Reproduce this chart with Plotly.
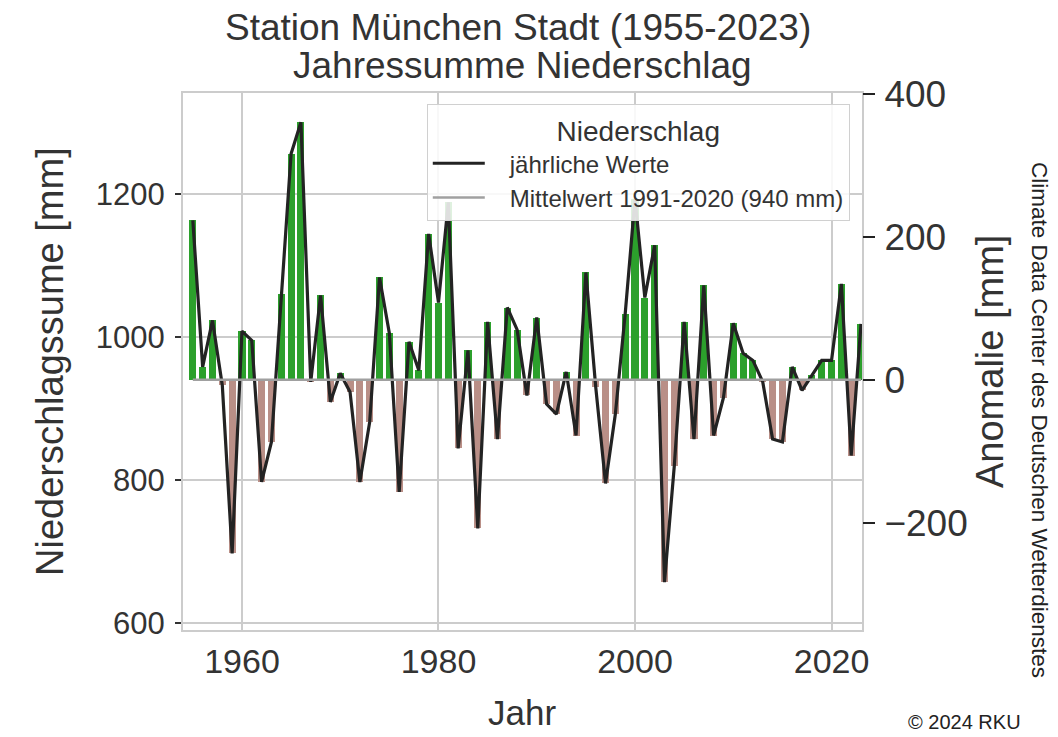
import plotly.graph_objects as go

YEARS = list(range(1955, 2024))
PRECIP = [1163, 958, 1023, 932, 697, 1008, 995, 797, 853, 1060,
          1256, 1300, 937, 1058, 909, 949, 923, 797, 881, 1083,
          1005, 783, 993, 953, 1144, 1048, 1188, 844, 981, 732,
          1021, 857, 1041, 1010, 918, 1027, 906, 892, 951, 862,
          1090, 930, 795, 892, 1032, 1193, 1055, 1128, 657, 820,
          1021, 857, 1072, 862, 915, 1019, 977, 967, 937, 857,
          853, 958, 925, 946, 967, 967, 1074, 834, 1018]
MEAN = 940
X_TICKS = [1960, 1980, 2000, 2020]
Y_TICKS = [600, 800, 1000, 1200]
Y2_TICKS = [-200, 0, 200, 400]

FONT = "Liberation Sans, Arial, sans-serif"
TXT = "#333333"
GREEN = "#2ca02c"
BROWN = "#b98f87"
PAD = "\u00a0\u00a0\u00a0"

anom = [v - MEAN for v in PRECIP]
colors = [GREEN if a >= 0 else BROWN for a in anom]

fig = go.Figure()
fig.add_trace(go.Bar(x=YEARS, y=anom, base=MEAN, marker=dict(color=colors, line=dict(width=0)),
                     width=0.72, showlegend=False, hoverinfo="skip"))
fig.add_trace(go.Scatter(x=YEARS, y=PRECIP, mode="lines", name=PAD + "jährliche Werte",
                         line=dict(color="#232323", width=3.2)))
fig.add_trace(go.Scatter(x=YEARS, y=[MEAN] * len(YEARS), mode="lines",
                         name=PAD + "Mittelwert 1991-2020 (940 mm)",
                         line=dict(color="#a0a0a0", width=2.5)))
# invisible helper so the anomaly axis is drawn
fig.add_trace(go.Scatter(x=[YEARS[0]], y=[0], yaxis="y2", mode="markers",
                         marker=dict(opacity=0), showlegend=False, hoverinfo="skip"))

yl = [590, 1341]
fig.update_layout(
    width=1050, height=729,
    margin=dict(l=175, r=196, t=85, b=107, autoexpand=False),
    paper_bgcolor="white", plot_bgcolor="white",
    font=dict(family=FONT, color=TXT),
    bargap=0,
    xaxis=dict(range=[1954.0, 2023.1], tickvals=X_TICKS, showgrid=True, automargin=False,
               gridcolor="#cccccc", gridwidth=1.5, zeroline=False,
               showline=True, linecolor="#cccccc", linewidth=2, mirror=True,
               ticks="", ticklabelstandoff=0, tickfont=dict(size=34, color=TXT)),
    yaxis=dict(range=yl, tickvals=Y_TICKS, showgrid=True, gridcolor="#cccccc", automargin=False,
               gridwidth=1.5, zeroline=False, showline=True, linecolor="#cccccc",
               linewidth=2, mirror=True, ticks="outside", ticklen=6, tickcolor="#333333",
               tickwidth=1.5, ticklabelstandoff=4, tickfont=dict(size=31, color=TXT)),
    yaxis2=dict(range=[yl[0] - MEAN, yl[1] - MEAN], tickvals=Y2_TICKS, automargin=False,
                overlaying="y", side="right", showgrid=False, zeroline=False,
                showline=False, ticks="outside", ticklen=12, tickwidth=2,
                ticklabelstandoff=2,
                tickcolor="#222222", tickfont=dict(size=37, color=TXT)),
    legend=dict(x=0.982, xanchor="right", y=0.98, yanchor="top",
                bgcolor="rgba(255,255,255,0.85)", bordercolor="#d0d0d0", borderwidth=1,
                font=dict(size=24, color=TXT),
                title=dict(text="Niederschlag", side="top center",
                           font=dict(size=28, color=TXT)),
                itemwidth=52),
)

def ann(text, px, py, size, angle=0, color=TXT):
    # px, py: centre of the text in the reference picture; plot area spans 183..862 x 93..630
    fig.add_annotation(text=text, xref="paper", yref="paper",
                       x=(px - 183) / 679, y=(630 - py) / 537, textangle=angle,
                       showarrow=False, font=dict(size=size, color=color, family=FONT),
                       xanchor="center", yanchor="middle")

ann("Station München Stadt (1955-2023)", 518, 27, 37)
ann("Jahressumme Niederschlag", 522, 65, 37)
ann("Niederschlagssume [mm]", 50, 362, 38, angle=-90)
ann("Anomalie [mm]", 990, 362, 38, angle=-90)
ann("Jahr", 522, 713, 35)
ann("Climate Data Center des Deutschen Wetterdienstes", 1040, 420, 22.5, angle=90, color="#222222")
ann("© 2024 RKU", 965, 722, 20, color="#222222")

fig.write_html("out.html")
